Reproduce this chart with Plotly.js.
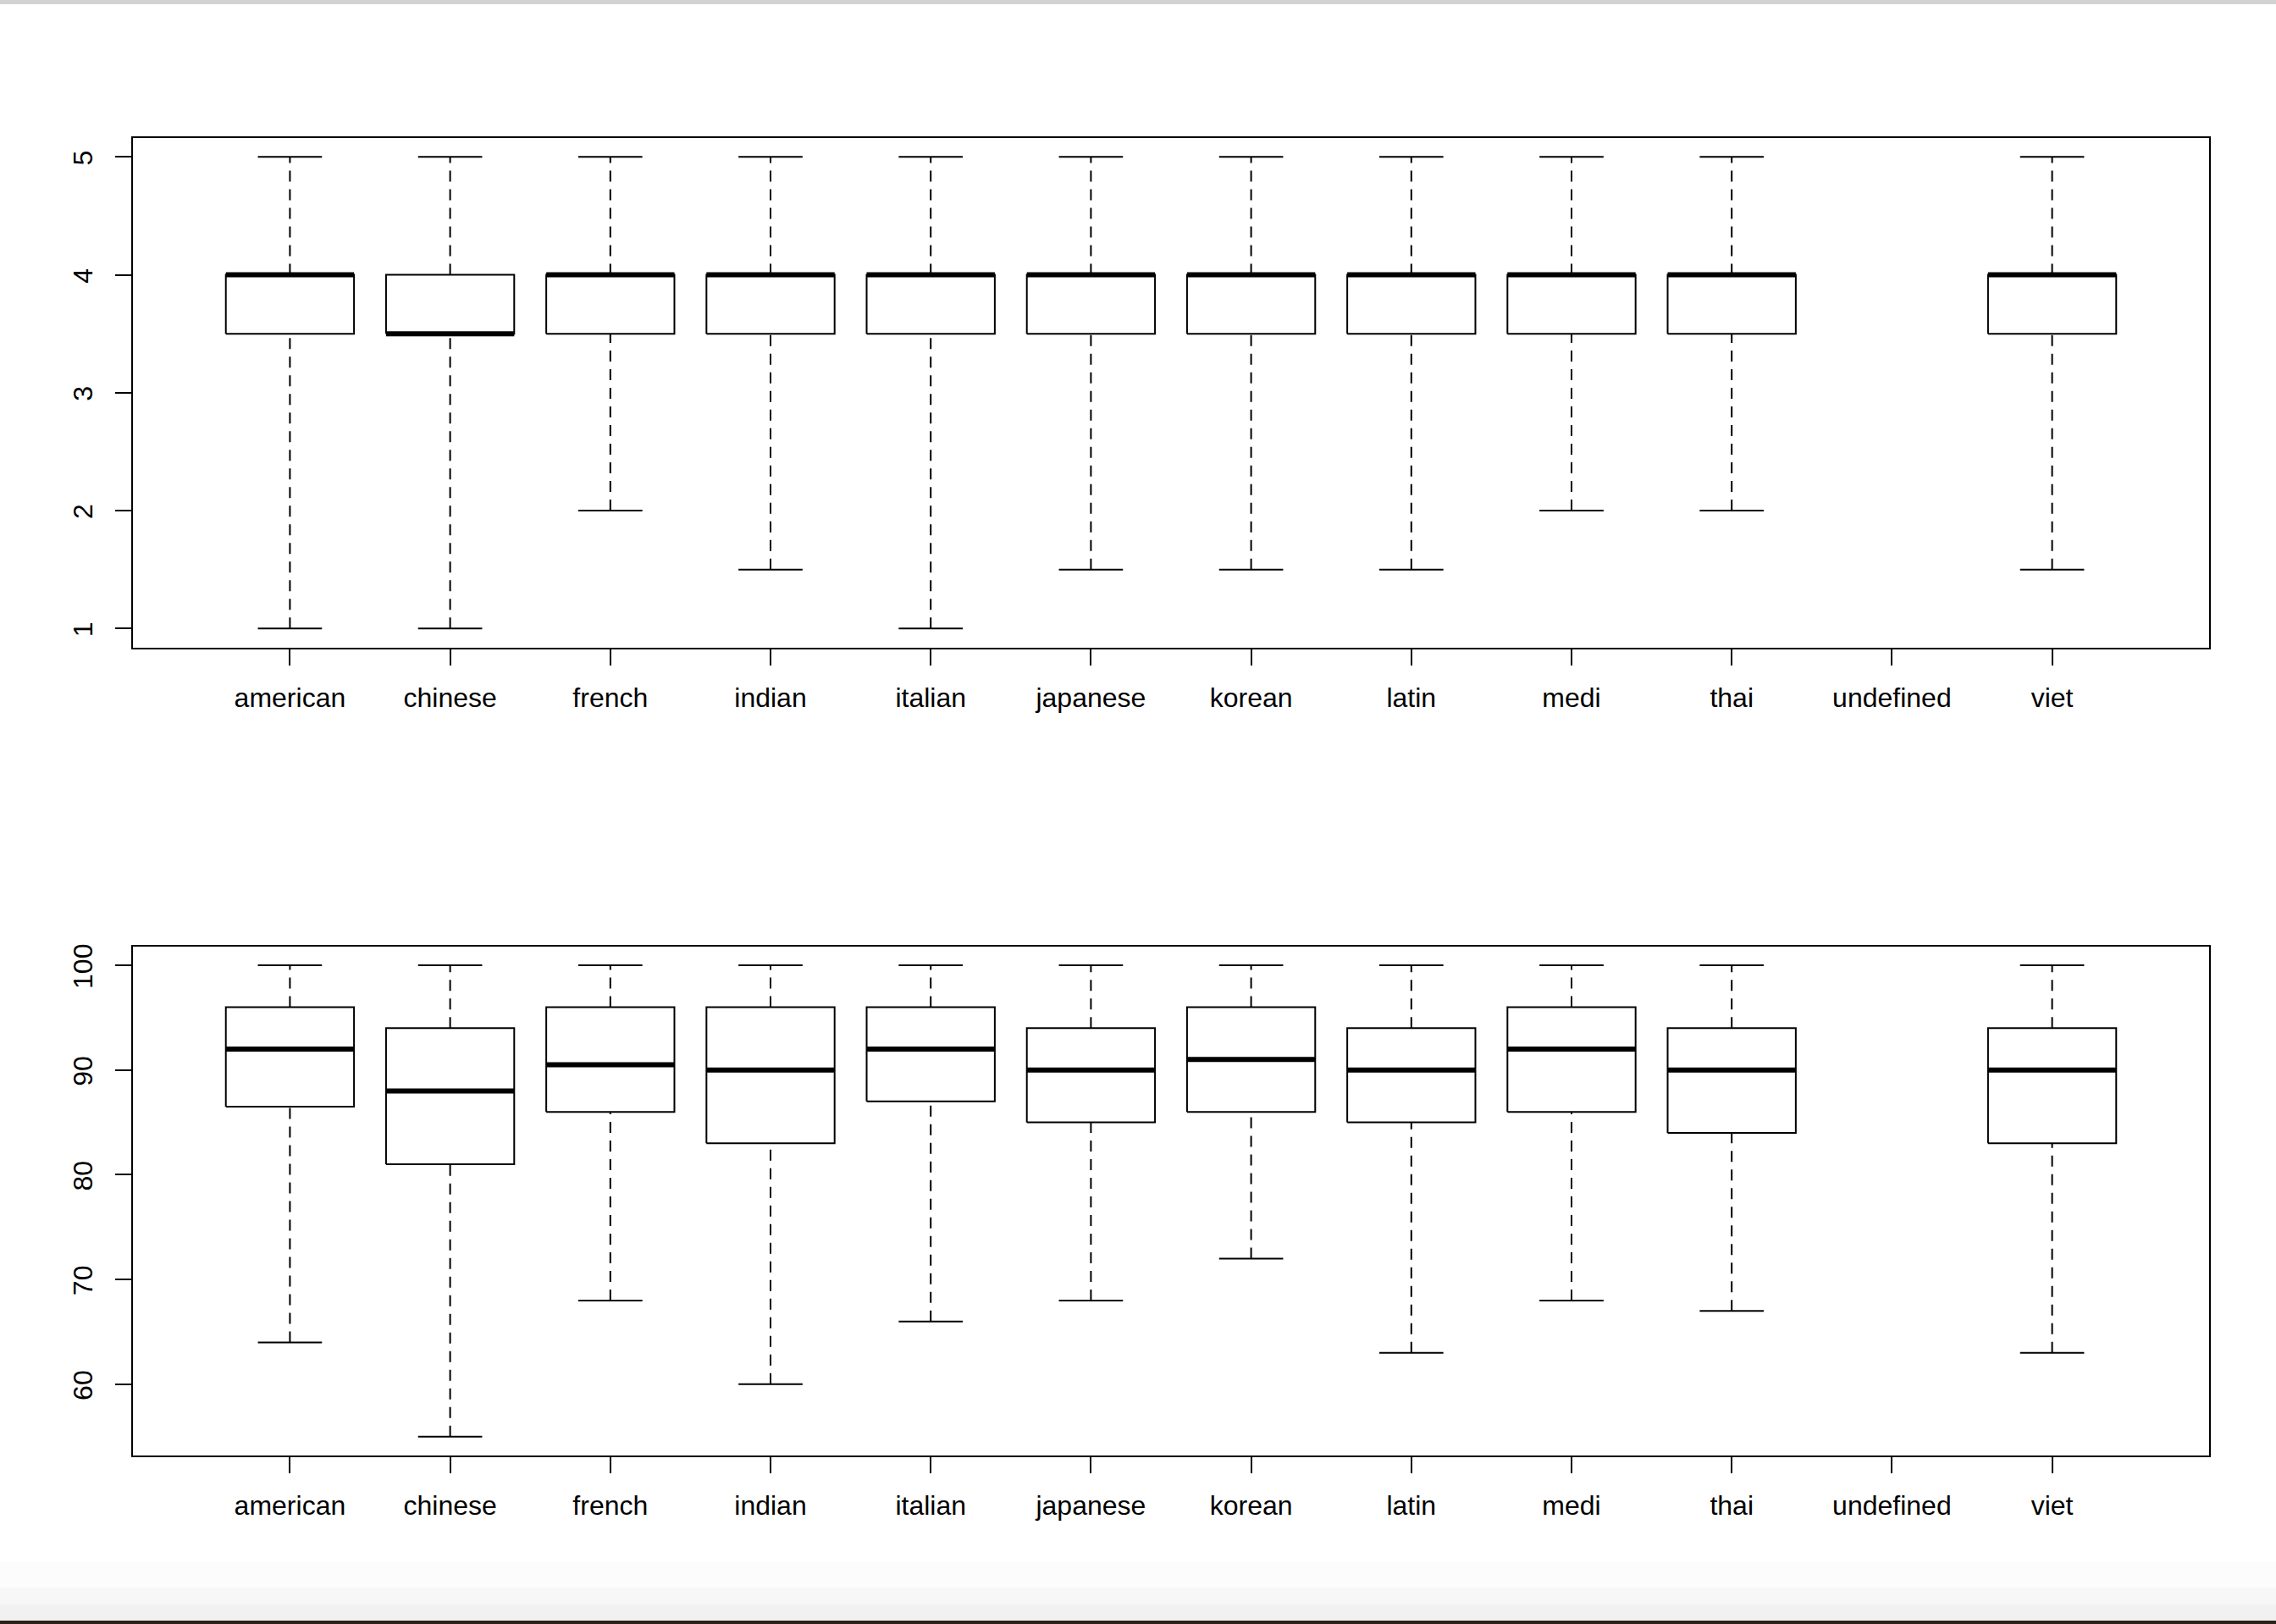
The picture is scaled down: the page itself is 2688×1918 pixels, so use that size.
<!DOCTYPE html>
<html>
<head>
<meta charset="utf-8">
<script src="https://cdn.plot.ly/plotly-3.0.1.min.js"></script>
<style>
  html, body { margin: 0; padding: 0; background: #ffffff; }
  #chart { width: 2688px; height: 1918px; }
</style>
</head>
<body>
<div id="chart"></div>
<script>
// ---- Data ----
const categories = ["american", "chinese", "french", "indian", "italian", "japanese",
                    "korean", "latin", "medi", "thai", "undefined", "viet"];

// Top panel: rating (1-5)
const ratingLow  = [1,   1,   2,   1.5, 1,   1.5, 1.5, 1.5, 2,   2,   null, 1.5];
const ratingQ1   = [3.5, 3.5, 3.5, 3.5, 3.5, 3.5, 3.5, 3.5, 3.5, 3.5, null, 3.5];
const ratingMed  = [4,   3.5, 4,   4,   4,   4,   4,   4,   4,   4,   null, 4];
const ratingQ3   = [4,   4,   4,   4,   4,   4,   4,   4,   4,   4,   null, 4];
const ratingHigh = [5,   5,   5,   5,   5,   5,   5,   5,   5,   5,   null, 5];
const ratingTicks = [1, 2, 3, 4, 5];

// Bottom panel: score (55-100)
const scoreLow  = [64,   55,  68,   60,  66,  68,  72,  63,  68,  67,  null, 63];
const scoreQ1   = [86.5, 81,  86,   83,  87,  85,  86,  85,  86,  84,  null, 83];
const scoreMed  = [92,   88,  90.5, 90,  92,  90,  91,  90,  92,  90,  null, 90];
const scoreQ3   = [96,   94,  96,   96,  96,  94,  96,  94,  96,  94,  null, 94];
const scoreHigh = [100,  100, 100,  100, 100, 100, 100, 100, 100, 100, null, 100];
const scoreTicks = [60, 70, 80, 90, 100];

// ---- Style constants ----
const BOX_HALF = 0.4;
const STAPLE_HALF = 0.2;
const LINE_W = 2;
const MED_W = 6;
const FONT = "Liberation Sans, Arial, Helvetica, sans-serif";

function boxTraces(low, q1, med, q3, high, xa, ya) {
  const wx = [], wy = [], sx = [], sy = [], bx = [], by = [], mx = [], my = [];
  categories.forEach((c, i) => {
    if (med[i] === null) return;
    const p = i + 1;
    // whiskers
    wx.push(p, p, null, p, p, null);
    wy.push(low[i], q1[i], null, q3[i], high[i], null);
    // staples
    sx.push(p - STAPLE_HALF, p + STAPLE_HALF, null, p - STAPLE_HALF, p + STAPLE_HALF, null);
    sy.push(low[i], low[i], null, high[i], high[i], null);
    // box
    bx.push(p - BOX_HALF, p + BOX_HALF, p + BOX_HALF, p - BOX_HALF, p - BOX_HALF, null);
    by.push(q1[i], q1[i], q3[i], q3[i], q1[i], null);
    // median
    mx.push(p - BOX_HALF, p + BOX_HALF, null);
    my.push(med[i], med[i], null);
  });
  const common = { type: "scatter", mode: "lines", xaxis: xa, yaxis: ya,
                   hoverinfo: "skip", showlegend: false, connectgaps: false };
  return [
    Object.assign({}, common, { x: wx, y: wy, line: { color: "#000", width: LINE_W, dash: "13px,9px" } }),
    Object.assign({}, common, { x: sx, y: sy, line: { color: "#000", width: LINE_W } }),
    Object.assign({}, common, { x: bx, y: by, line: { color: "#000", width: LINE_W } }),
    Object.assign({}, common, { x: mx, y: my, line: { color: "#000", width: MED_W } })
  ];
}

const data = [].concat(
  boxTraces(ratingLow, ratingQ1, ratingMed, ratingQ3, ratingHigh, "x", "y"),
  boxTraces(scoreLow, scoreQ1, scoreMed, scoreQ3, scoreHigh, "x2", "y2")
);

const tickPositions = categories.map((c, i) => i + 1);

function xAxis(anchor) {
  return {
    anchor: anchor,
    domain: [0, 1],
    range: [0.02, 12.98],
    tickmode: "array",
    tickvals: tickPositions,
    ticktext: categories,
    ticks: "outside",
    ticklen: 19,
    tickwidth: 2,
    tickcolor: "#000",
    showline: true,
    mirror: true,
    linecolor: "#000",
    linewidth: 2,
    showgrid: false,
    zeroline: false,
    tickfont: { family: FONT, size: 32, color: "#000" },
    ticklabelstandoff: 11,
    fixedrange: true
  };
}

function yAxis(anchor, domain, range, ticks) {
  return {
    anchor: anchor,
    domain: domain,
    range: range,
    tickmode: "array",
    tickvals: ticks,
    ticktext: ticks.map(String),
    tickangle: -90,
    ticks: "outside",
    ticklen: 19,
    tickwidth: 2,
    tickcolor: "#000",
    showline: true,
    mirror: true,
    linecolor: "#000",
    linewidth: 2,
    showgrid: false,
    zeroline: false,
    tickfont: { family: FONT, size: 32, color: "#000" },
    ticklabelstandoff: 14,
    ticklabelshift: 6,
    fixedrange: true
  };
}

// window-frame decoration (paper coordinates: plot area spans pixels 163..1719 vertically)
function pyToPaper(p) { return (1719 - p) / 1556; }

const layout = {
  width: 2688,
  height: 1918,
  margin: { l: 157, r: 79, t: 163, b: 199, pad: 0 },
  paper_bgcolor: "#ffffff",
  plot_bgcolor: "#ffffff",
  showlegend: false,
  hovermode: false,
  xaxis: xAxis("y"),
  yaxis: yAxis("x", [0.6134, 1], [0.84, 5.16], ratingTicks),
  xaxis2: xAxis("y2"),
  yaxis2: yAxis("x2", [0, 0.3864], [53.2, 101.8], scoreTicks),
  shapes: [
    { type: "rect", xref: "paper", yref: "paper", layer: "below",
      x0: -0.07, x1: 1.04, y0: pyToPaper(5), y1: pyToPaper(-2),
      fillcolor: "#d2d2d2", line: { width: 0 } },
    { type: "rect", xref: "paper", yref: "paper", layer: "below",
      x0: -0.07, x1: 1.04, y0: pyToPaper(1875), y1: pyToPaper(1845),
      fillcolor: "#fcfcfc", line: { width: 0 } },
    { type: "rect", xref: "paper", yref: "paper", layer: "below",
      x0: -0.07, x1: 1.04, y0: pyToPaper(1895), y1: pyToPaper(1875),
      fillcolor: "#f7f7f7", line: { width: 0 } },
    { type: "rect", xref: "paper", yref: "paper", layer: "below",
      x0: -0.07, x1: 1.04, y0: pyToPaper(1914), y1: pyToPaper(1895),
      fillcolor: "#f1f1f1", line: { width: 0 } },
    { type: "rect", xref: "paper", yref: "paper", layer: "below",
      x0: -0.07, x1: 1.04, y0: pyToPaper(1920), y1: pyToPaper(1914),
      fillcolor: "#2b2218", line: { width: 0 } }
  ]
};

Plotly.newPlot("chart", data, layout, { staticPlot: true, displayModeBar: false });
</script>
</body>
</html>
